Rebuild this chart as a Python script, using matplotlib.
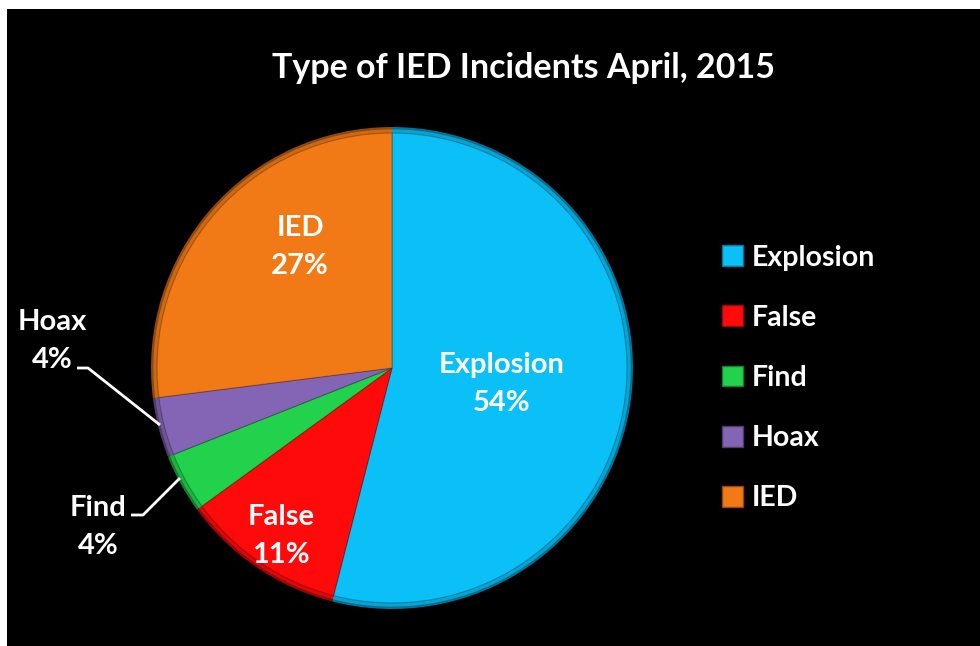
import matplotlib.pyplot as plt
import matplotlib.colors as mcolors
from matplotlib.patches import Rectangle, Patch

plt.rcParams['font.family'] = ['Lato', 'DejaVu Sans']

categories = ['Explosion', 'False', 'Find', 'Hoax', 'IED']
shares = [54, 11, 4, 4, 27]
colors = ['#0BBFF7', '#FF0A0A', '#22D24C', '#8464B4', '#F27A16']

W, H = 980, 646
fig = plt.figure(figsize=(W / 100, H / 100), dpi=100, facecolor='white')

# black chart area
fig.patches.append(Rectangle((7 / W, 0), 1 - 7 / W, 1 - 9 / H, transform=fig.transFigure,
                             facecolor='black', edgecolor='none', zorder=-10))

fig.text(523 / W, 1 - 68 / H, 'Type of IED Incidents April, 2015', color='white',
         fontsize=24.5, fontweight='bold', ha='center', va='center')

# pie axes, centre (392, 368) radius 241 px
cx, cy, r = 392, 368, 241
ax = fig.add_axes([(cx - r) / W, 1 - (cy + r) / H, 2 * r / W, 2 * r / H])
ax.set_axis_off()
ax.patch.set_visible(False)

# rough bevel: dark rim, then slightly darker band, then main colour
dark = [tuple(c * 0.6 for c in mcolors.to_rgb(col)) for col in colors]
mid = [tuple(c * 0.85 for c in mcolors.to_rgb(col)) for col in colors]
ax.pie(shares, colors=dark, startangle=90, counterclock=False, radius=1.0,
       wedgeprops=dict(linewidth=0))
ax.pie(shares, colors=mid, startangle=90, counterclock=False, radius=0.99,
       wedgeprops=dict(linewidth=0))
ax.pie(shares, colors=colors, startangle=90, counterclock=False, radius=0.975,
       wedgeprops=dict(linewidth=0.8, edgecolor=(0, 0, 0, 0.25)))
ax.set_xlim(-1, 1)
ax.set_ylim(-1, 1)


def to_ax(px, py):
    return (px - cx) / r, (cy - py) / r


label_pos = {'Explosion': (502, 384), 'False': (281, 536), 'IED': (300, 247),
             'Hoax': (52, 341), 'Find': (98, 527)}
for name, val in zip(categories, shares):
    x, y = to_ax(*label_pos[name])
    ax.text(x, y, f'{name}\n{val}%', color='white', fontsize=21, fontweight='bold',
            ha='center', va='center', linespacing=1.6, clip_on=False)

# leader lines
for pts in ([(77, 368), (88, 368), (160, 425)], [(131, 515), (143, 515), (180, 478)]):
    xs, ys = zip(*[to_ax(*p) for p in pts])
    ax.plot(xs, ys, color='white', linewidth=2, clip_on=False, solid_capstyle='butt')

handles = [Patch(facecolor=c, edgecolor=d, linewidth=1) for c, d in zip(colors, dark)]
fig.legend(handles, categories, loc='upper left', bbox_to_anchor=(696 / W, 1 - 219 / H),
           frameon=False, labelcolor='white', prop={'weight': 'bold', 'size': 20.5},
           handlelength=0.75, handleheight=0.75, handletextpad=0.3, labelspacing=1.2)

fig.savefig('out.png', dpi=100, facecolor='white')
